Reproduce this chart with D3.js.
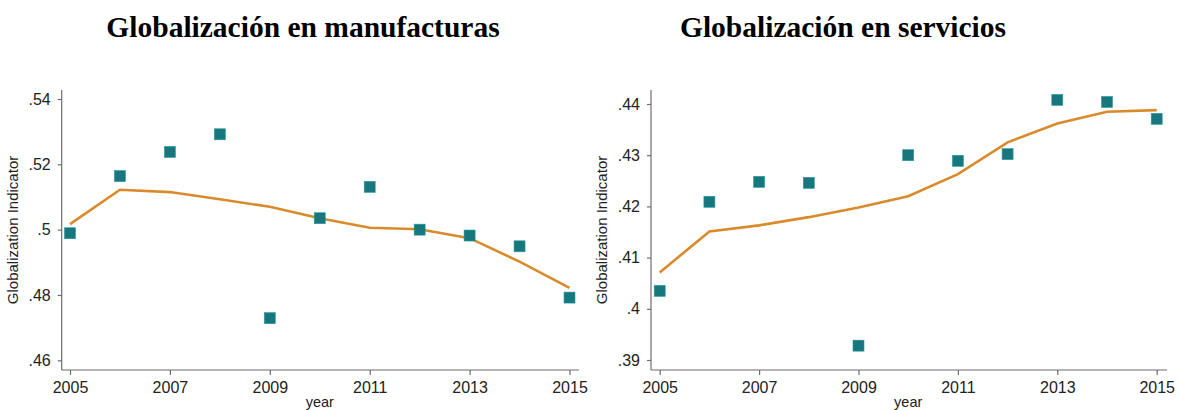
<!DOCTYPE html>
<html><head><meta charset="utf-8">
<script src="https://cdn.jsdelivr.net/npm/d3@7"></script>
<style>body{margin:0;background:#fff}svg{display:block}</style>
</head><body>
<svg id="c" width="1177" height="410"></svg>
<script>
const years = [2005,2006,2007,2008,2009,2010,2011,2012,2013,2014,2015];
const xTicks = [2005,2007,2009,2011,2013,2015];
const titles = ["Globalización en manufacturas","Globalización en servicios"];
const manufScatter = [0.4989,0.5164,0.5238,0.5292,0.4729,0.5035,0.5131,0.5000,0.4982,0.4949,0.4792];
const manufFit     = [0.5017,0.5122,0.5115,0.5093,0.5070,0.5035,0.5006,0.5001,0.4974,0.4902,0.4822];
const servScatter  = [0.4035,0.4209,0.4248,0.4246,0.3928,0.4300,0.4289,0.4302,0.4408,0.4404,0.4371];
const servFit      = [0.4071,0.4151,0.4163,0.4179,0.4198,0.4220,0.4263,0.4325,0.4362,0.4385,0.4388];
const manufYTicks = [0.46,0.48,0.50,0.52,0.54];
const servYTicks  = [0.39,0.40,0.41,0.42,0.43,0.44];
const yLabel = "Globalization Indicator";
const xLabel = "year";

const svg = d3.select("#c");
const fmt = v => { let s = d3.format(".2f")(v); s = s.replace(/0+$/,""); return s.replace(/^0/,""); };

function panel(cfg){
  const g = svg.append("g");
  const x = d3.scaleLinear().domain([2005,2015]).range([cfg.x0, cfg.x1]);
  const y = d3.scaleLinear().domain([cfg.yt[0], cfg.yt[cfg.yt.length-1]]).range([cfg.yBot, cfg.yTop]);
  const ax = g.append("g").attr("transform",`translate(0,${cfg.axisY})`)
    .call(d3.axisBottom(x).tickValues(xTicks).tickFormat(d3.format("d")).tickSize(5).tickSizeOuter(0));
  const ay = g.append("g").attr("transform",`translate(${cfg.axisX},0)`)
    .call(d3.axisLeft(y).tickValues(cfg.yt).tickFormat(fmt).tickSize(4).tickSizeOuter(0));
  [ax,ay].forEach(a=>{
    a.select(".domain").attr("stroke","#6d6d6d").attr("stroke-width",1.2);
    a.selectAll(".tick line").attr("stroke","#6d6d6d").attr("stroke-width",1.2);
    a.selectAll("text").attr("fill","#222").style("font-family","'Liberation Sans',Arial,sans-serif").style("font-size","16px");
  });
  ax.select(".domain").attr("d",`M${cfg.axisX},0H${cfg.xEnd}`);
  ay.select(".domain").attr("d",`M0,${cfg.yStart}V${cfg.axisY}`);
  ax.selectAll(".tick text").attr("dy","0.92em");
  ay.selectAll(".tick text").attr("dx","-4");
  g.append("text").attr("transform",`translate(${cfg.axisX-44},${(cfg.yStart+cfg.axisY)/2}) rotate(-90)`)
    .attr("text-anchor","middle").attr("fill","#222")
    .style("font-family","'Liberation Sans',Arial,sans-serif").style("font-size","15px").text(yLabel);
  g.append("text").attr("x",(cfg.x0+cfg.x1)/2).attr("y",407).attr("text-anchor","middle").attr("fill","#222")
    .style("font-family","'Liberation Sans',Arial,sans-serif").style("font-size","14.5px").text(xLabel);
  svg.append("text").attr("x",cfg.titleX).attr("y",37).attr("text-anchor","middle").attr("fill","#000")
    .style("font-family","'Liberation Serif','Times New Roman',serif").style("font-weight","bold").style("font-size","29.5px")
    .text(cfg.title);
  const line = d3.line().x((d,i)=>x(years[i])).y(d=>y(d));
  g.append("path").datum(cfg.fit).attr("d",line).attr("fill","none").attr("stroke","#d98b2b").attr("stroke-width",2.6);
  const s = 11;
  g.selectAll("rect.pt").data(cfg.scatter).join("rect").attr("class","pt")
    .attr("x",(d,i)=>x(years[i])-s/2).attr("y",d=>y(d)-s/2).attr("width",s).attr("height",s)
    .attr("fill","#17777d").attr("stroke","#2a9aa0").attr("stroke-width",0.6);
}

panel({x0:70,x1:569.5,axisX:61.7,xEnd:579,axisY:370,yStart:90,yBot:360.3,yTop:99,yt:manufYTicks,
  fit:manufFit,scatter:manufScatter,title:titles[0],titleX:303});
panel({x0:659.7,x1:1156.7,axisX:651,xEnd:1167,axisY:370,yStart:90,yBot:360,yTop:104,yt:servYTicks,
  fit:servFit,scatter:servScatter,title:titles[1],titleX:843});
</script>
</body></html>
